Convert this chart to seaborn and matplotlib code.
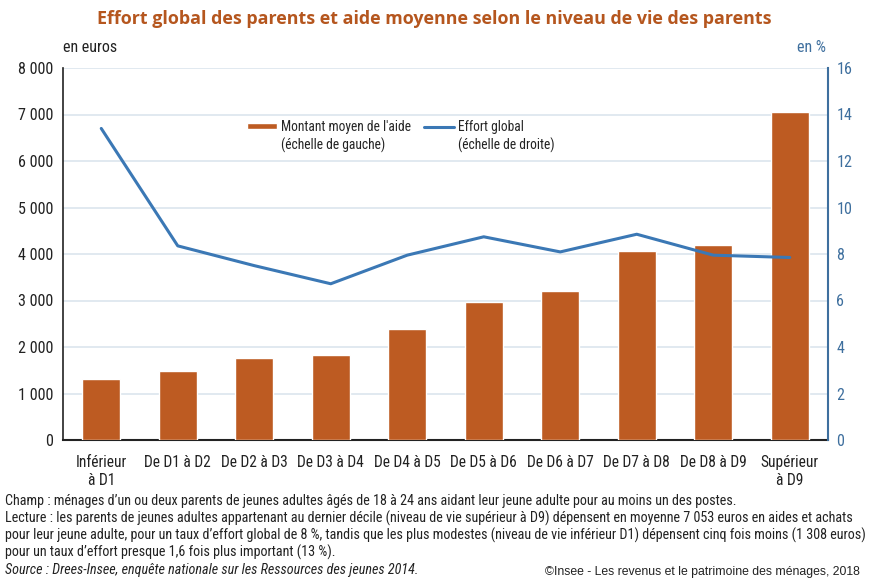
import matplotlib
matplotlib.use("Agg")
import matplotlib.pyplot as plt
from matplotlib import font_manager
import seaborn as sns
import pandas as pd

categories = ["Inférieur\nà D1", "De D1 à D2", "De D2 à D3", "De D3 à D4", "De D4 à D5",
              "De D5 à D6", "De D6 à D7", "De D7 à D8", "De D8 à D9", "Supérieur\nà D9"]
montant = [1308, 1480, 1760, 1830, 2390, 2965, 3200, 4065, 4190, 7053]
effort = [13.4, 8.35, 7.5, 6.72, 7.95, 8.74, 8.09, 8.85, 7.95, 7.85]
left_ticks = [0, 1000, 2000, 3000, 4000, 5000, 6000, 7000, 8000]
left_labels = ["0", "1 000", "2 000", "3 000", "4 000", "5 000", "6 000", "7 000", "8 000"]
right_ticks = [0, 2, 4, 6, 8, 10, 12, 14, 16]

df = pd.DataFrame({"cat": categories, "montant": montant, "effort": effort})

sns.set_theme(style="white")
available = {f.name for f in font_manager.fontManager.ttflist}
narrow_pref = ["Liberation Sans Narrow", "Arial Narrow", "Roboto Condensed",
               "DejaVu Sans Condensed", "Open Sans Condensed", "Noto Sans Condensed"]
NARROW_NAME = next((n for n in narrow_pref if n in available), "Liberation Sans")
NARROW = [NARROW_NAME, "DejaVu Sans"]
plt.rcParams["font.family"] = NARROW

BAR = "#BD5B22"
LINE = "#3B78B5"
RAX = "#3E6F9E"
GRID = "#DCE5EE"
TXT = "#222222"

fig = plt.figure(figsize=(8.69, 5.86), dpi=100)
renderer = fig.canvas.get_renderer()


def size_for(s, target_w, **kw):
    t = fig.text(0, 0, s, fontsize=10, **kw)
    w = t.get_window_extent(renderer).width
    t.remove()
    return 10 * target_w / w


ax = fig.add_axes([63/869, 1-440/586, (828-63)/869, (440-68)/586])

sns.barplot(data=df, x="cat", y="montant", color=BAR, width=0.5, saturation=1,
            ax=ax, label="Montant moyen de l'aide", zorder=3)
ax.set_ylim(0, 8000)
ax.set_xlim(-0.5, 9.5)
ax.set_yticks(left_ticks)
ax.set_yticklabels(left_labels)
ax.yaxis.grid(True, color=GRID, linewidth=1.2, zorder=0)
ax.set_axisbelow(True)
ax.set_xlabel("")
ax.set_ylabel("")
for s in ["top", "right"]:
    ax.spines[s].set_visible(False)
ax.spines["left"].set_color(TXT)
ax.spines["bottom"].set_color(TXT)
ax.spines["left"].set_linewidth(1.2)
ax.spines["bottom"].set_linewidth(1.5)

xsize = size_for("De D1 à D2", 67)
ysize = size_for("8 000", 35)

ax.tick_params(axis="y", labelsize=ysize, colors=TXT, length=0, pad=7)
ax.tick_params(axis="x", labelsize=xsize, colors=TXT, length=0, pad=11)

ax2 = ax.twinx()
sns.lineplot(x=list(range(len(categories))), y=effort, color=LINE, linewidth=2.2, ax=ax2,
             label="Effort global", zorder=4)
ax2.set_ylim(0, 16)
ax2.set_yticks(right_ticks)
ax2.set_ylabel("")
for s in ["top", "left", "bottom"]:
    ax2.spines[s].set_visible(False)
ax2.spines["right"].set_color(RAX)
ax2.spines["right"].set_linewidth(1.5)
ax2.tick_params(axis="y", labelsize=ysize, colors=RAX, length=0, pad=6)
if ax2.legend_:
    ax2.legend_.remove()

lsize = size_for("Montant moyen de l'aide", 130)
lpx = lsize * 100 / 72

h1, l1 = ax.get_legend_handles_labels()
h2, l2 = ax2.get_legend_handles_labels()
leg = ax2.legend(h1 + h2, l1 + l2, ncol=2, frameon=False, loc="upper left",
                 bbox_to_anchor=(247/869, 1-120/586), bbox_transform=fig.transFigure,
                 fontsize=lsize, handlelength=30/lpx, handleheight=0.35,
                 columnspacing=13/lpx, handletextpad=4/lpx, borderpad=0, borderaxespad=0)
if ax.legend_:
    ax.legend_.remove()

fig.canvas.draw()
for txt, sub in zip(leg.get_texts(), ["(échelle de gauche)", "(échelle de droite)"]):
    bb = txt.get_window_extent(renderer)
    fig.text(bb.x0/869, (bb.y0 - 4)/586, sub, ha="left", va="top", fontsize=lsize, color=TXT)

title = "Effort global des parents et aide moyenne selon le niveau de vie des parents"
tfam = ["Open Sans", "DejaVu Sans"]
fig.text(0.5, 1-19/586, title, ha="center", va="center", color="#B5561E", fontweight="bold",
         family=tfam, fontsize=size_for(title, 680, fontweight="bold", family=tfam))

hsize = size_for("en euros", 54)
fig.text(63/869, 1-47/586, "en euros", ha="left", va="center", fontsize=hsize, color=TXT)
fig.text(826/869, 1-47/586, "en %", ha="right", va="center", fontsize=hsize, color=RAX)

fsize = size_for("Lecture : les parents de jeunes adultes appartenant au dernier décile (niveau de vie supérieur à D9) dépensent en moyenne 7 053 euros en aides et achats", 849)
foot = [
    ("Champ : ménages d’un ou deux parents de jeunes adultes âgés de 18 à 24 ans aidant leur jeune adulte pour au moins un des postes.", 501),
    ("Lecture : les parents de jeunes adultes appartenant au dernier décile (niveau de vie supérieur à D9) dépensent en moyenne 7 053 euros en aides et achats", 518),
    ("pour leur jeune adulte, pour un taux d’effort global de 8 %, tandis que les plus modestes (niveau de vie inférieur D1) dépensent cinq fois moins (1 308 euros)", 535),
    ("pour un taux d’effort presque 1,6 fois plus important (13 %).", 552),
]
for s, y in foot:
    fig.text(5/869, 1-y/586, s, ha="left", va="center", fontsize=fsize, color=TXT)
fig.text(5/869, 1-570/586, "Source : Drees-Insee, enquête nationale sur les Ressources des jeunes 2014.",
         ha="left", va="center", fontsize=fsize, color=TXT, style="italic")
cfam = ["Liberation Sans", "DejaVu Sans"]
ctext = "©Insee - Les revenus et le patrimoine des ménages, 2018"
fig.text(860/869, 1-572/586, ctext, ha="right", va="center", color=TXT, family=cfam,
         fontsize=size_for(ctext, 316, family=cfam))

fig.savefig("out.png", dpi=100)
